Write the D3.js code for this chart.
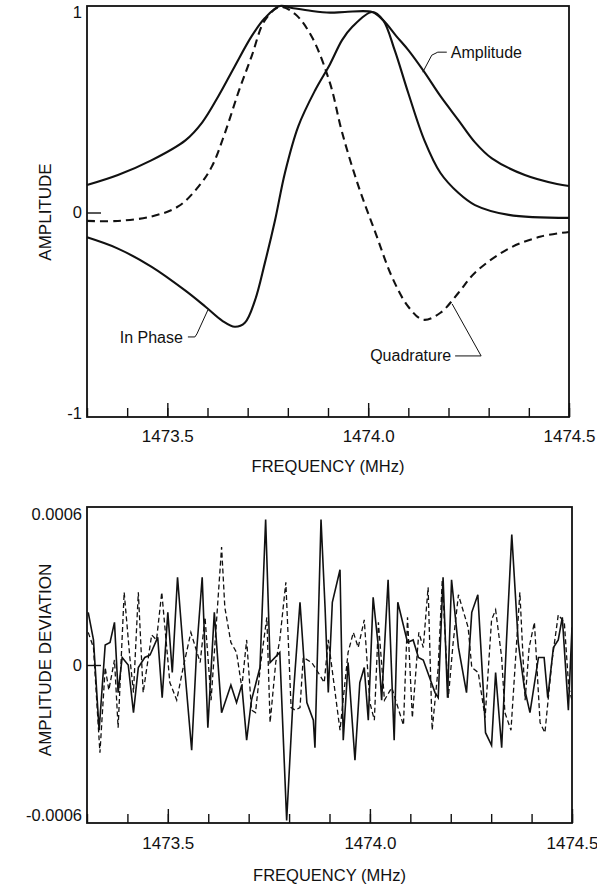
<!DOCTYPE html>
<html>
<head>
<meta charset="utf-8">
<script src="https://cdn.jsdelivr.net/npm/d3@7"></script>
<style>
  body { margin: 0; background: #fff; }
  text { font-family: "Liberation Sans", Arial, Helvetica, sans-serif; fill: #111; }
</style>
</head>
<body>
<div class="chart"></div>
<script>
// top panel: normalised response
var ampF   = [1473.30,1473.377,1473.46,1473.545,1473.587,1473.627,1473.668,1473.71,1473.743,1473.78,1473.81,1473.86,1473.905,1473.942,1474.01,1474.037,1474.07,1474.10,1474.14,1474.18,1474.225,1474.266,1474.308,1474.39,1474.47,1474.50];
var ampV   = [0.137,0.187,0.26,0.36,0.45,0.58,0.73,0.88,0.97,1.03,1.02,1.005,0.997,1.0,1.0,0.96,0.88,0.81,0.70,0.58,0.46,0.35,0.27,0.187,0.142,0.132];
var phaseF = [1473.30,1473.377,1473.46,1473.545,1473.595,1473.637,1473.668,1473.693,1473.718,1473.743,1473.768,1473.793,1473.826,1473.868,1473.905,1473.935,1473.96,1474.01,1474.037,1474.066,1474.10,1474.14,1474.18,1474.225,1474.266,1474.35,1474.50];
var phaseV = [-0.124,-0.18,-0.27,-0.39,-0.47,-0.54,-0.57,-0.55,-0.44,-0.25,-0.04,0.20,0.43,0.61,0.74,0.86,0.925,1.0,0.96,0.81,0.595,0.36,0.197,0.097,0.037,-0.012,-0.027];
var quadF  = [1473.30,1473.377,1473.46,1473.527,1473.578,1473.611,1473.644,1473.677,1473.71,1473.743,1473.78,1473.818,1473.86,1473.905,1473.935,1473.976,1474.018,1474.059,1474.10,1474.137,1474.18,1474.225,1474.266,1474.35,1474.43,1474.50];
var quadV  = [-0.042,-0.042,-0.02,0.03,0.13,0.23,0.40,0.60,0.78,0.96,1.025,0.99,0.875,0.645,0.40,0.13,-0.10,-0.32,-0.47,-0.535,-0.50,-0.40,-0.30,-0.18,-0.12,-0.097];

// bottom panel: deviation, units of 1e-4
var devF1  = [1473.303,1473.316,1473.330,1473.345,1473.357,1473.368,1473.377,1473.387,1473.402,1473.415,1473.427,1473.443,1473.456,1473.475,1473.486,1473.500,1473.511,1473.524,1473.542,1473.559,1473.571,1473.585,1473.599,1473.615,1473.633,1473.656,1473.670,1473.683,1473.695,1473.707,1473.728,1473.742,1473.753,1473.777,1473.794,1473.810,1473.827,1473.844,1473.860,1473.864,1473.879,1473.889,1473.897,1473.907,1473.926,1473.934,1473.946,1473.963,1473.975,1473.986,1473.996,1474.008,1474.021,1474.029,1474.045,1474.060,1474.069,1474.093,1474.107,1474.120,1474.132,1474.161,1474.169,1474.181,1474.192,1474.202,1474.219,1474.239,1474.252,1474.267,1474.283,1474.286,1474.301,1474.311,1474.326,1474.338,1474.351,1474.367,1474.382,1474.396,1474.417,1474.431,1474.440,1474.454,1474.466,1474.476,1474.491,1474.500];
var devSolid = [2.1,1.0,-2.6,0.8,0.9,1.7,-1.1,0.3,0,-1.9,-0.1,0.3,0.4,1.1,-1.3,2.1,-0.3,3.5,-0.2,-3.4,0.5,3.5,-2.5,2.1,-1.9,-0.8,-1.5,-0.8,-3.0,-1.4,-0.1,5.8,0.1,0.5,-6.2,-1.3,2.5,-1.5,-2.2,-3.3,5.8,2.3,-1.1,2.5,3.8,-3.0,0.1,-3.8,-0.7,-0.1,-2.2,2.7,0.7,-1.4,3.4,-3.0,2.5,0.9,1.0,0.3,0.2,-1.1,-1.3,3.5,-1.3,3.4,0.7,-1.1,2.1,2.8,-1.7,-2.7,-3.2,-0.3,-3.3,1.0,5.2,0.9,-0.9,-1.9,0.3,0.3,-1.3,0.7,1.0,1.9,-1.8,1.5];
var devF2  = [1473.303,1473.316,1473.332,1473.345,1473.354,1473.368,1473.377,1473.392,1473.406,1473.415,1473.427,1473.439,1473.460,1473.472,1473.485,1473.505,1473.522,1473.538,1473.557,1473.580,1473.592,1473.607,1473.633,1473.641,1473.656,1473.670,1473.683,1473.695,1473.707,1473.717,1473.730,1473.745,1473.753,1473.767,1473.777,1473.792,1473.805,1473.815,1473.827,1473.835,1473.856,1473.872,1473.887,1473.897,1473.926,1473.946,1473.959,1473.971,1473.986,1474.000,1474.011,1474.021,1474.036,1474.054,1474.083,1474.093,1474.105,1474.121,1474.132,1474.144,1474.154,1474.169,1474.179,1474.194,1474.206,1474.219,1474.243,1474.252,1474.268,1474.285,1474.301,1474.311,1474.326,1474.334,1474.349,1474.371,1474.384,1474.394,1474.407,1474.421,1474.433,1474.450,1474.466,1474.481,1474.492,1474.500];
var devDashed = [1.3,0.7,-3.5,-0.1,-1.0,0.2,-2.5,2.9,0.3,-1.1,2.9,-1.1,1.2,1.0,2.9,-0.7,-1.4,-0.1,1.3,0.1,1.9,-1.4,4.7,2.3,0.9,0.5,-0.9,1.0,-1.8,-1.9,0.1,1.9,-2.3,0.1,1.0,3.3,-1.7,-1.8,-1.7,0.3,0.1,-0.3,-0.7,1.0,-2.6,0.5,1.3,0.7,1.8,-1.5,-2.2,1.7,-1.4,-0.9,-2.4,1.9,-2.1,1.3,0.7,3.1,-2.6,-0.1,3.4,-1.3,0.9,2.8,1.5,-0.1,-0.3,-2.1,1.8,2.2,0.3,-1.9,-2.6,2.9,-1.4,0.7,1.7,-2.3,-2.7,0.1,2.0,1.7,-0.9,-1.4];

var freqTicks  = [1473.3,1473.4,1473.5,1473.6,1473.7,1473.8,1473.9,1474.0,1474.1,1474.2,1474.3,1474.4,1474.5];
var majorTicks = [1473.5,1474.0,1474.5];
var ampTicks   = [-1,0,1];
var ampLabels  = ["-1","0","1"];
var devTicks   = [-0.0006,0,0.0006];
var devLabels  = ["-0.0006","0","0.0006"];

var W = 597, H = 885;

var svg = d3.select(".chart").append("svg")
            .attr("width", W)
            .attr("height", H);
svg.append("rect").attr("width", W).attr("height", H).attr("fill", "#fff");

function panel(cfg) {
  var x = d3.scaleLinear().domain([1473.3,1474.5]).range([cfg.left, cfg.right]);
  var y = d3.scaleLinear().domain(cfg.ydom).range([cfg.bottom, cfg.top]);
  var g = svg.append("g");

  g.append("clipPath").attr("id", cfg.id)
   .append("rect")
   .attr("x", cfg.left).attr("y", cfg.top)
   .attr("width", cfg.right-cfg.left).attr("height", cfg.bottom-cfg.top);

  // minor ticks, pointing inwards
  g.append("g")
   .attr("transform", "translate(0," + cfg.bottom + ")")
   .call(d3.axisBottom(x).tickValues(freqTicks).tickSize(-9).tickFormat(""))
   .call(function(a){ a.select(".domain").remove(); });
  // major ticks + labels
  g.append("g")
   .attr("transform", "translate(0," + cfg.bottom + ")")
   .call(d3.axisBottom(x).tickValues(majorTicks).tickSize(-14).tickPadding(cfg.xpad).tickFormat(d3.format(".1f")))
   .call(function(a){ a.select(".domain").remove(); a.selectAll("text").attr("font-size", 17).attr("font-family", null); });

  g.selectAll(".tick line").attr("stroke", "#111").attr("stroke-width", 1.4);

  // y labels
  g.append("g")
   .attr("transform", "translate(" + cfg.left + ",0)")
   .call(d3.axisLeft(y).tickValues(cfg.yticks).tickSize(0).tickPadding(5)
           .tickFormat(function(d, i){ return cfg.ylabels[i]; }))
   .call(function(a){ a.select(".domain").remove(); a.selectAll("text").attr("font-size", 16.5).attr("font-family", null); });
  // zero tick
  g.append("g")
   .attr("transform", "translate(" + cfg.left + ",0)")
   .call(d3.axisLeft(y).tickValues([0]).tickSize(-14).tickFormat(""))
   .call(function(a){ a.select(".domain").remove(); a.selectAll("line").attr("stroke", "#111").attr("stroke-width", 1.4); });

  g.append("rect")
   .attr("x", cfg.left).attr("y", cfg.top)
   .attr("width", cfg.right-cfg.left).attr("height", cfg.bottom-cfg.top)
   .attr("fill", "none").attr("stroke", "#111").attr("stroke-width", 1.8);

  g.append("text")
   .attr("x", (cfg.left+cfg.right)/2).attr("y", cfg.xlabelY)
   .attr("text-anchor", "middle").attr("font-size", 16.5)
   .text("FREQUENCY (MHz)");

  g.append("text")
   .attr("transform", "translate(" + 51 + "," + cfg.ylabelY + ") rotate(-90)")
   .attr("text-anchor", "middle").attr("font-size", 17)
   .text(cfg.ylabel);

  return {x: x, y: y, g: g};
}

// ---- top panel
var topP = panel({id: "clipTop", left: 87, right: 569, top: 6, bottom: 417, ydom: [-1.02,1.03],
                  yticks: ampTicks, ylabels: ampLabels, xpad: 13, xlabelY: 472,
                  ylabel: "AMPLITUDE", ylabelY: 212});

function smooth(p, fs, vs, dash) {
  var line = d3.line().curve(d3.curveCatmullRom.alpha(0.5))
               .x(function(d){ return p.x(d[0]); })
               .y(function(d){ return p.y(d[1]); });
  p.g.append("path")
     .datum(d3.zip(fs, vs))
     .attr("d", line)
     .attr("fill", "none")
     .attr("stroke", "#111")
     .attr("stroke-width", 2.1)
     .attr("stroke-dasharray", dash ? "8,5" : null);
}
smooth(topP, ampF, ampV, false);
smooth(topP, phaseF, phaseV, false);
smooth(topP, quadF, quadV, true);

// callouts: anchored on the curve, then pixel offsets
var notes = [
  {text: "Amplitude",  f: 1474.136, v: 0.70,   path: [[0,0],[9,-17],[15,-20],[24,-20]], tx: 28,  ty: -14, anchor: "start"},
  {text: "In Phase",   f: 1473.601, v: -0.486, path: [[0,0],[-11,24],[-13,27],[-20,27]], tx: -25, ty: 33, anchor: "end"},
  {text: "Quadrature", f: 1474.209, v: -0.456, path: [[0,0],[29,52],[3,52]],            tx: -1,  ty: 57, anchor: "end"}
];
notes.forEach(function(n) {
  var px = topP.x(n.f), py = topP.y(n.v);
  topP.g.append("path")
     .attr("d", d3.line()(n.path.map(function(q){ return [px+q[0], py+q[1]]; })))
     .attr("fill", "none").attr("stroke", "#111").attr("stroke-width", 1);
  topP.g.append("text")
     .attr("x", px + n.tx).attr("y", py + n.ty)
     .attr("text-anchor", n.anchor).attr("font-size", 16)
     .text(n.text);
});

// ---- bottom panel
var botP = panel({id: "clipBot", left: 87, right: 572, top: 507, bottom: 823, ydom: [-0.00063,0.00063],
                  yticks: devTicks, ylabels: devLabels,
                  xpad: 14, xlabelY: 881, ylabel: "AMPLITUDE DEVIATION", ylabelY: 660});

function noisy(p, fs, vs, dash, w) {
  var line = d3.line()
               .x(function(d){ return p.x(d[0]); })
               .y(function(d){ return p.y(d[1]*1e-4); });
  p.g.append("path")
     .datum(d3.zip(fs, vs))
     .attr("clip-path", "url(#clipBot)")
     .attr("d", line)
     .attr("fill", "none")
     .attr("stroke", "#111")
     .attr("stroke-width", w)
     .attr("stroke-dasharray", dash ? "5,3" : null);
}
noisy(botP, devF2, devDashed, true, 1.3);
noisy(botP, devF1, devSolid, false, 1.6);
</script>
</body>
</html>
